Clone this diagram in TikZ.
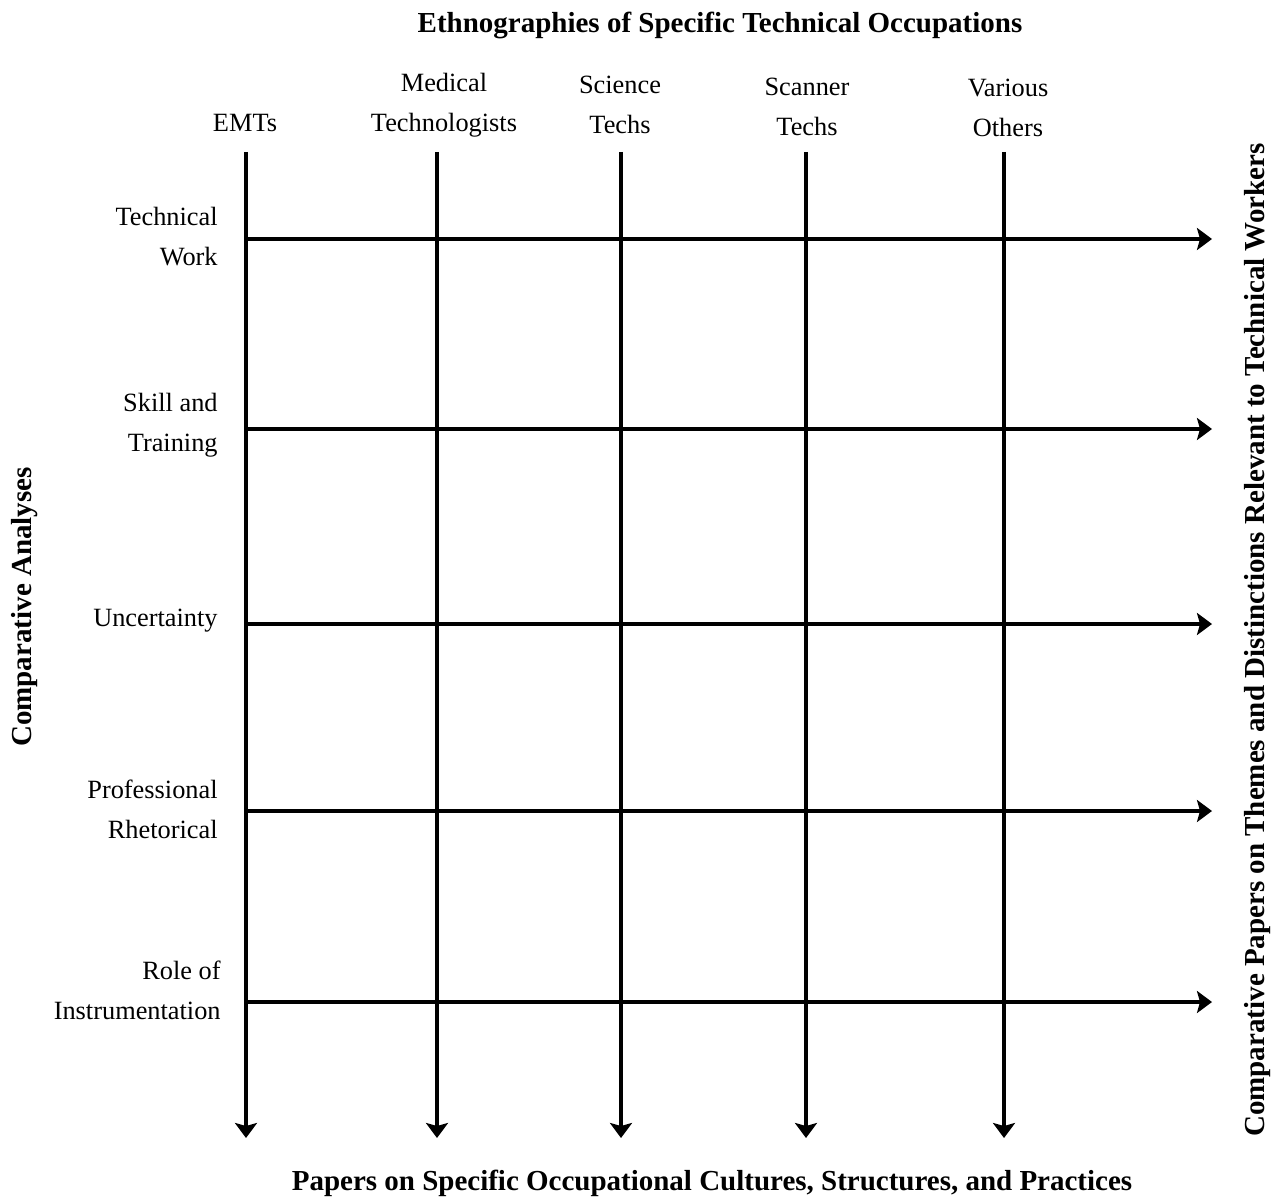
\documentclass[tikz,border=0pt]{standalone}
\usepackage{fontspec}
\setmainfont{Liberation Serif}
\usepackage{tikz}
\usetikzlibrary{arrows.meta,positioning}
\tikzstyle{arrow} = [line width=2.4pt,-{Stealth[length=0.3cm,width=0.44cm,inset=0.06cm]}]
\tikzstyle{colhead} = [align=center, inner sep=0pt, font=\fontsize{15}{22.8}\selectfont]
\tikzstyle{rowhead} = [align=right, anchor=east, inner sep=0pt, font=\fontsize{15}{22.8}\selectfont]
\tikzstyle{axistitle} = [inner sep=0pt, font=\fontsize{16.5}{22.8}\selectfont\bfseries]

\begin{document}
\begin{tikzpicture}[x=0.02cm,y=-0.02cm]
\useasboundingbox (0,0) rectangle (1283,1199);

% titles
\node[axistitle] (top) at (720,25) {Ethnographies of Specific Technical Occupations};
\node[axistitle] (bottom) at (712,1183) {Papers on Specific Occupational Cultures, Structures, and Practices};
\node[axistitle, rotate=90] (left) at (25,607) {Comparative Analyses};
\node[axistitle, rotate=90] (right) at (1258,640) {Comparative Papers on Themes and Distinctions Relevant to Technical Workers};

% occupations
\node[colhead] (emt) at (245,123) {EMTs};
\node[colhead] (med) at (444,105) {Medical\\Technologists};
\node[colhead] (sci) at (620,105) {Science\\Techs};
\node[colhead] (scan) at (807,107) {Scanner\\Techs};
\node[colhead] (var) at (1008,108) {Various\\Others};

% themes
\node[rowhead] (work) at (218,237) {Technical\\Work};
\node[rowhead] (skill) at (218,425) {Skill and\\Training};
\node[rowhead] (unc) at (218,621) {Uncertainty};
\node[rowhead] (rhet) at (218,809) {Professional\\Rhetorical};
\node[rowhead] (instr) at (221,990) {Role of\\Instrumentation};

% line ends
\coordinate (emtT) at (246,152);   \coordinate (emtB) at (246,1138);
\coordinate (medT) at (437,152);   \coordinate (medB) at (437,1138);
\coordinate (sciT) at (621,152);   \coordinate (sciB) at (621,1138);
\coordinate (scanT) at (806,152);  \coordinate (scanB) at (806,1138);
\coordinate (varT) at (1004,152);  \coordinate (varB) at (1004,1138);

\coordinate (workR) at (1212,239);
\coordinate (skillR) at (1212,429);
\coordinate (uncR) at (1212,624);
\coordinate (rhetR) at (1212,811);
\coordinate (instrR) at (1212,1002);

\draw[arrow] (emtT) -- (emtB);
\draw[arrow] (medT) -- (medB);
\draw[arrow] (sciT) -- (sciB);
\draw[arrow] (scanT) -- (scanB);
\draw[arrow] (varT) -- (varB);

\draw[arrow] (emtT |- workR) -- (workR);
\draw[arrow] (emtT |- skillR) -- (skillR);
\draw[arrow] (emtT |- uncR) -- (uncR);
\draw[arrow] (emtT |- rhetR) -- (rhetR);
\draw[arrow] (emtT |- instrR) -- (instrR);
\end{tikzpicture}
\end{document}
